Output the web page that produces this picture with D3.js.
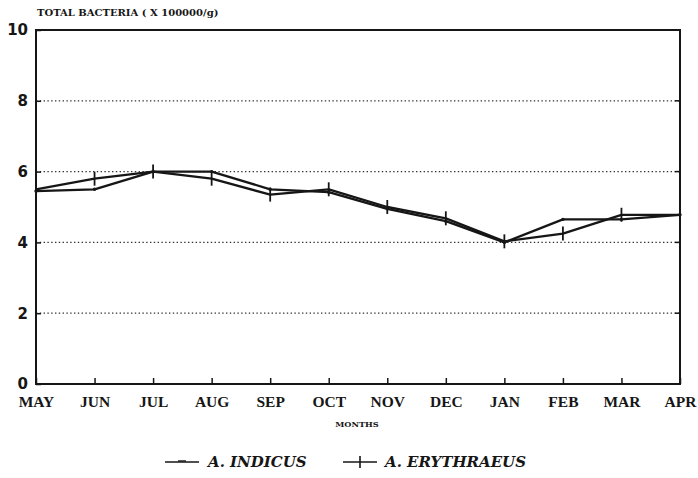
<!DOCTYPE html>
<html>
<head>
<meta charset="utf-8">
<script src="https://cdn.jsdelivr.net/npm/d3@7"></script>
<style>
  html, body { margin: 0; padding: 0; background: #fff; }
  svg { display: block; }
</style>
</head>
<body>
<svg id="chart" width="698" height="478"></svg>
<script>
// Monthly total bacteria counts (x 100000 per gram)
const months = ["MAY", "JUN", "JUL", "AUG", "SEP", "OCT", "NOV", "DEC", "JAN", "FEB", "MAR", "APR"];
const indicus = [5.45, 5.5, 6.0, 6.0, 5.5, 5.42, 4.95, 4.6, 4.0, 4.65, 4.65, 4.78];
const erythraeus = [5.5, 5.8, 6.0, 5.8, 5.35, 5.5, 5.0, 4.68, 4.03, 4.25, 4.78, 4.78];
const yTicks = [0, 2, 4, 6, 8, 10];
const gridValues = [2, 4, 6, 8];

const ink = "#161616";
const svg = d3.select("#chart");
const margin = { left: 36, right: 18, top: 30, bottom: 94 };
const W = 698, H = 478;

const x = d3.scalePoint().domain(months).range([margin.left, W - margin.right]);
const y = d3.scaleLinear().domain([0, 10]).range([H - margin.bottom, margin.top]);

const x0 = x.range()[0], x1 = x.range()[1];
const y0 = y(0), y1 = y(10);

// dotted gridlines
svg.append("g").selectAll("line").data(gridValues).join("line")
  .attr("x1", x0).attr("x2", x1)
  .attr("y1", d => y(d)).attr("y2", d => y(d))
  .attr("stroke", "#333").attr("stroke-width", 1.3)
  .attr("stroke-dasharray", "1.4,2.4");

// frame
svg.append("rect")
  .attr("x", x0).attr("y", y1).attr("width", x1 - x0).attr("height", y0 - y1)
  .attr("fill", "none").attr("stroke", ink).attr("stroke-width", 2);

// left axis
const yAxis = d3.axisLeft(y).tickValues(yTicks).tickSize(-5).tickPadding(8).tickFormat(d3.format("d"));
const gy = svg.append("g").attr("transform", `translate(${x0},0)`).call(yAxis);
gy.select(".domain").remove();
gy.selectAll("line").attr("stroke", ink).attr("stroke-width", 1.5);
gy.selectAll("text")
  .attr("font-family", "'DejaVu Sans', sans-serif").attr("font-weight", "bold")
  .attr("font-size", 15).attr("fill", ink);

// right-side inner ticks
svg.append("g").selectAll("line").data(gridValues).join("line")
  .attr("x1", x1 - 5).attr("x2", x1)
  .attr("y1", d => y(d)).attr("y2", d => y(d))
  .attr("stroke", ink).attr("stroke-width", 1.5);

// bottom axis
const xAxis = d3.axisBottom(x).tickSize(-6).tickPadding(12);
const gx = svg.append("g").attr("transform", `translate(0,${y0})`).call(xAxis);
gx.select(".domain").remove();
gx.selectAll("line").attr("stroke", ink).attr("stroke-width", 1.5);
gx.selectAll("text")
  .attr("font-family", "'Liberation Serif', serif").attr("font-weight", "bold")
  .attr("font-size", 15.5).attr("fill", ink);

// titles
svg.append("text").attr("x", 37).attr("y", 16)
  .attr("font-family", "'DejaVu Serif', serif").attr("font-weight", "bold")
  .attr("font-size", 10).attr("fill", ink)
  .text("TOTAL BACTERIA ( X 100000/g)");
svg.append("text").attr("x", 357).attr("y", 427)
  .attr("text-anchor", "middle")
  .attr("font-family", "'DejaVu Serif', serif").attr("font-weight", "bold")
  .attr("font-size", 8.2).attr("fill", ink)
  .text("MONTHS");

// series
const line = d3.line().x((d, i) => x(months[i])).y(d => y(d));
const series = [
  { name: "A. INDICUS", values: indicus },
  { name: "A. ERYTHRAEUS", values: erythraeus }
];

series.forEach(s => {
  svg.append("path").datum(s.values)
    .attr("d", line)
    .attr("fill", "none").attr("stroke", ink)
    .attr("stroke-width", 2.3).attr("stroke-linejoin", "round");
});

// markers
const er = svg.append("g");
er.selectAll("line").data(erythraeus).join("line")
  .attr("x1", (d, i) => x(months[i])).attr("x2", (d, i) => x(months[i]))
  .attr("y1", d => y(d) - 7).attr("y2", d => y(d) + 7)
  .attr("stroke", ink).attr("stroke-width", 1.8);
const ind = svg.append("g");
ind.selectAll("circle").data(indicus).join("circle")
  .attr("cx", (d, i) => x(months[i])).attr("cy", d => y(d))
  .attr("r", 1.7).attr("fill", ink);

// legend
const legendY = 462;
const legend = [
  { x: 165, tx: 208, label: "A. INDICUS", marker: "dot" },
  { x: 343, tx: 385, label: "A. ERYTHRAEUS", marker: "plus" }
];
legend.forEach(l => {
  svg.append("line").attr("x1", l.x).attr("x2", l.x + 34)
    .attr("y1", legendY).attr("y2", legendY)
    .attr("stroke", ink).attr("stroke-width", 1.6);
  if (l.marker === "plus") {
    svg.append("line").attr("x1", l.x + 17).attr("x2", l.x + 17)
      .attr("y1", legendY - 6).attr("y2", legendY + 6)
      .attr("stroke", ink).attr("stroke-width", 1.6);
  } else {
    svg.append("line").attr("x1", l.x + 13).attr("x2", l.x + 21)
      .attr("y1", legendY - 1).attr("y2", legendY - 1)
      .attr("stroke", ink).attr("stroke-width", 1.4);
  }
  svg.append("text").attr("x", l.tx).attr("y", legendY + 5)
    .attr("font-family", "'DejaVu Serif', serif").attr("font-weight", "bold")
    .attr("font-style", "italic").attr("font-size", 15).attr("fill", ink)
    .text(l.label);
});
</script>
</body>
</html>
